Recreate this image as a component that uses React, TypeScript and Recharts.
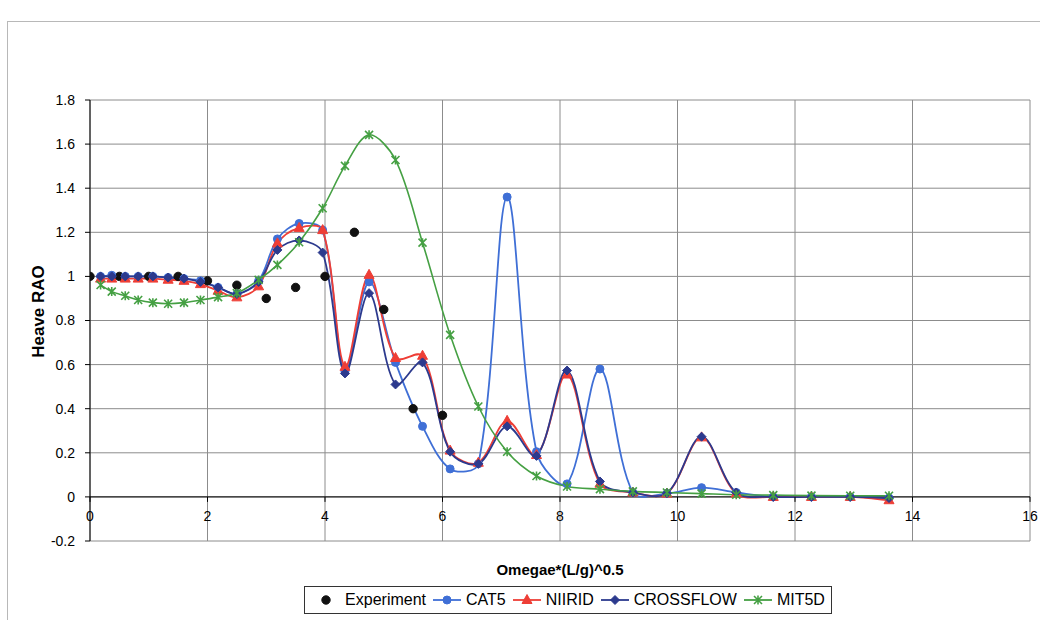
import React from 'react';
import { ComposedChart, Line, XAxis, YAxis, CartesianGrid, ReferenceLine, Legend } from 'recharts';

// ---------- data ----------
const simX = [0.18, 0.37, 0.6, 0.82, 1.07, 1.33, 1.6, 1.88, 2.18, 2.5, 2.87, 3.19, 3.56, 3.96, 4.34, 4.75, 5.2, 5.66, 6.13, 6.61, 7.1, 7.6, 8.12, 8.68, 9.24, 9.82, 10.41, 11.0, 11.63, 12.28, 12.94, 13.6];
const cat5Y = [1.0, 1.005, 1.0, 1.0, 1.0, 0.995, 0.99, 0.98, 0.95, 0.92, 0.98, 1.17, 1.24, 1.21, 0.57, 0.975, 0.61, 0.32, 0.127, 0.15, 1.36, 0.205, 0.059, 0.58, 0.02, 0.015, 0.042, 0.02, 0.0, 0.0, 0.0, -0.005];
const niiridY = [0.99, 0.99, 0.99, 0.99, 0.99, 0.985, 0.98, 0.965, 0.935, 0.905, 0.955, 1.15, 1.22, 1.21, 0.59, 1.007, 0.63, 0.64, 0.21, 0.155, 0.345, 0.19, 0.555, 0.06, 0.02, 0.015, 0.27, 0.015, 0.0, 0.0, 0.0, -0.015];
const crossflowY = [1.0, 1.0, 1.0, 1.0, 1.0, 0.995, 0.99, 0.975, 0.95, 0.92, 0.975, 1.12, 1.163, 1.108, 0.56, 0.924, 0.51, 0.61, 0.205, 0.15, 0.32, 0.186, 0.573, 0.07, 0.02, 0.017, 0.273, 0.02, 0.0, 0.0, 0.0, -0.005];
const mit5dY = [0.961, 0.931, 0.912, 0.893, 0.881, 0.876, 0.881, 0.893, 0.906, 0.924, 0.984, 1.052, 1.155, 1.309, 1.501, 1.642, 1.528, 1.153, 0.735, 0.41, 0.205, 0.095, 0.047, 0.035, 0.025, 0.02, 0.015, 0.01, 0.008, 0.006, 0.005, 0.005];
const expX = [0, 0.5, 1.0, 1.5, 2.0, 2.5, 3.0, 3.5, 4.0, 4.5, 5.0, 5.5, 6.0];
const expY = [1.0, 1.0, 1.0, 1.0, 0.98, 0.96, 0.9, 0.95, 1.0, 1.2, 0.85, 0.4, 0.37];

const xTicks = [0, 2, 4, 6, 8, 10, 12, 14, 16];
const yTicks = [-0.2, 0, 0.2, 0.4, 0.6, 0.8, 1, 1.2, 1.4, 1.6, 1.8];
const xDomain: [number, number] = [0, 16];
const yDomain: [number, number] = [-0.2, 1.8];

const seriesNames = ['Experiment', 'CAT5', 'NIIRID', 'CROSSFLOW', 'MIT5D'];

const toPts = (xs: number[], ys: number[]) => xs.map((x, i) => ({ x, y: ys[i] }));
const expData = toPts(expX, expY);
const cat5Data = toPts(simX, cat5Y);
const niiridData = toPts(simX, niiridY);
const crossData = toPts(simX, crossflowY);
const mitData = toPts(simX, mit5dY);

// ---------- style ----------
const W = 1040;
const H = 620;
const PLOT_TOP = 100;
const X_AXIS_H = 79;
const PLOT_H = H - PLOT_TOP - X_AXIS_H;
const ZERO_OFF = (PLOT_H * (0 - yDomain[0])) / (yDomain[1] - yDomain[0]);
const FONT = '"Liberation Sans", Arial, Helvetica, sans-serif';

const C_EXP = '#111111';
const C_CAT5 = '#3f6fd6';
const C_NII = '#ee3e36';
const C_CROSS = '#2c3a8e';
const C_MIT = '#45a043';

// Excel-like smoothing: chord-length weighted Catmull-Rom bezier
const excelSmooth: any = (context: any) => {
  let pts: number[][] = [];
  const dist = (a: number[], b: number[]) => Math.hypot(b[0] - a[0], b[1] - a[1]);
  return {
    areaStart() {},
    areaEnd() {},
    lineStart() {
      pts = [];
    },
    point(x: number, y: number) {
      pts.push([+x, +y]);
    },
    lineEnd() {
      if (!pts.length) return;
      context.moveTo(pts[0][0], pts[0][1]);
      for (let i = 0; i < pts.length - 1; i++) {
        const p0 = pts[i - 1] || pts[i];
        const p1 = pts[i];
        const p2 = pts[i + 1];
        const p3 = pts[i + 2] || p2;
        const d01 = dist(p0, p1);
        const d12 = dist(p1, p2);
        const d23 = dist(p2, p3);
        const s1 = d01 + d12 > 0 ? (d12 / (d01 + d12)) * (2 / 3) * 0.5 : 0;
        const s2 = d12 + d23 > 0 ? (d12 / (d12 + d23)) * (2 / 3) * 0.5 : 0;
        const k1 = i === 0 ? 1 / 6 : s1;
        const k2 = i + 2 >= pts.length ? 1 / 6 : s2;
        context.bezierCurveTo(
          p1[0] + (p2[0] - p0[0]) * k1,
          p1[1] + (p2[1] - p0[1]) * k1,
          p2[0] - (p3[0] - p1[0]) * k2,
          p2[1] - (p3[1] - p1[1]) * k2,
          p2[0],
          p2[1]
        );
      }
    },
  };
};

// ---------- markers ----------
const circleM = (c: string, r: number) => (cx: number, cy: number, k: any) => (
  <circle key={k} cx={cx} cy={cy} r={r} fill={c} stroke={c} strokeWidth={1} />
);
const triM = (c: string) => (cx: number, cy: number, k: any) => (
  <polygon key={k} points={`${cx},${cy - 5.5} ${cx - 5},${cy + 3.5} ${cx + 5},${cy + 3.5}`} fill={c} stroke={c} strokeWidth={1} />
);
const diaM = (c: string) => (cx: number, cy: number, k: any) => (
  <polygon key={k} points={`${cx},${cy - 4.5} ${cx + 4.5},${cy} ${cx},${cy + 4.5} ${cx - 4.5},${cy}`} fill={c} stroke={c} strokeWidth={1} />
);
const starM = (c: string) => (cx: number, cy: number, k: any) => (
  <path
    key={k}
    d={`M${cx - 4},${cy - 4}L${cx + 4},${cy + 4}M${cx + 4},${cy - 4}L${cx - 4},${cy + 4}M${cx},${cy - 4.5}L${cx},${cy + 4.5}`}
    stroke={c}
    strokeWidth={1.6}
    fill="none"
  />
);

const dotFrom = (m: (cx: number, cy: number, k: any) => any) => (p: any) => {
  if (p.cx == null || p.cy == null) return <g key={p.index} />;
  return m(p.cx, p.cy, `d${p.index}`);
};

const expMarker = circleM(C_EXP, 4.2);
const cat5Marker = circleM(C_CAT5, 4);
const niiMarker = triM(C_NII);
const crossMarker = diaM(C_CROSS);
const mitMarker = starM(C_MIT);

// ---------- axis pieces ----------
const XTick = (p: any) => {
  const y0 = p.y - ZERO_OFF;
  return (
    <g>
      <line x1={p.x} x2={p.x} y1={y0} y2={y0 + 5} stroke="#000" strokeWidth={1} />
      <text x={p.x} y={y0 + 24} textAnchor="middle" fontSize={14} fontFamily={FONT} fill="#000">
        {p.payload.value}
      </text>
    </g>
  );
};

const YTitle = (props: any) => {
  const vb = props.viewBox || { x: 0, y: PLOT_TOP, width: 90, height: PLOT_H };
  const cx = vb.x + 38;
  const cy = vb.y + vb.height / 2 - 9;
  return (
    <text x={cx} y={cy} transform={`rotate(-90 ${cx} ${cy})`} textAnchor="middle" dominantBaseline="central" fontWeight="bold" fontSize={17} fontFamily={FONT} fill="#000">
      Heave RAO
    </text>
  );
};

const XTitle = (props: any) => {
  const vb = props.viewBox || { x: 90, y: PLOT_TOP + PLOT_H, width: 940, height: X_AXIS_H };
  return (
    <text x={vb.x + vb.width / 2} y={vb.y + 28} textAnchor="middle" dominantBaseline="central" fontWeight="bold" fontSize={15} fontFamily={FONT} fill="#000">
      Omegae*(L/g)^0.5
    </text>
  );
};

// ---------- legend ----------
const legendItems = [
  { name: seriesNames[0], color: C_EXP, marker: expMarker, line: false },
  { name: seriesNames[1], color: C_CAT5, marker: cat5Marker, line: true },
  { name: seriesNames[2], color: C_NII, marker: niiMarker, line: true },
  { name: seriesNames[3], color: C_CROSS, marker: crossMarker, line: true },
  { name: seriesNames[4], color: C_MIT, marker: mitMarker, line: true },
];

const LegendBox = () => (
  <div
    style={{
      boxSizing: 'border-box',
      width: 528,
      height: 28,
      border: '1px solid #333',
      background: '#fff',
      display: 'flex',
      alignItems: 'center',
      justifyContent: 'center',
      fontFamily: FONT,
      fontSize: 16,
      color: '#000',
      gap: 6,
    }}
  >
    {legendItems.map((it) => (
      <div key={it.name} style={{ display: 'flex', alignItems: 'center' }}>
        <svg width={30} height={14} style={{ marginRight: 4 }}>
          {it.line ? <line x1={1} x2={29} y1={7} y2={7} stroke={it.color} strokeWidth={1.8} /> : null}
          {it.marker(15, 7, 'm')}
        </svg>
        <span style={{ whiteSpace: 'nowrap' }}>{it.name}</span>
      </div>
    ))}
  </div>
);

export default function App() {
  return (
    <div style={{ position: 'absolute', left: 0, top: 0, width: W, height: H, background: '#fff' }}>
      <div
        style={{
          position: 'absolute',
          left: 7,
          top: 21,
          width: W - 7,
          height: H - 21,
          borderTop: '1px solid #b8b8b8',
          borderLeft: '1px solid #b8b8b8',
          boxSizing: 'border-box',
        }}
      />
      <ComposedChart
        width={W}
        height={H}
        margin={{ top: PLOT_TOP, right: 10, bottom: 0, left: 0 }}
        style={{ position: 'absolute', left: 0, top: 0 }}
      >
        <CartesianGrid stroke="#8c8c8c" strokeWidth={1} horizontalValues={yTicks} verticalValues={xTicks} />
        <XAxis
          type="number"
          dataKey="x"
          domain={xDomain}
          ticks={xTicks}
          allowDataOverflow
          interval={0}
          height={X_AXIS_H}
          axisLine={false}
          tickLine={false}
          tickSize={0}
          tickMargin={0}
          tick={<XTick />}
          label={<XTitle />}
        />
        <YAxis
          type="number"
          domain={yDomain}
          ticks={yTicks}
          allowDataOverflow
          interval={0}
          width={90}
          axisLine={{ stroke: '#000', strokeWidth: 1 }}
          tickLine={{ stroke: '#000' }}
          tickSize={5}
          tickMargin={10}
          tick={{ fontSize: 14, fontFamily: FONT, fill: '#000' }}
          label={<YTitle />}
        />
        <ReferenceLine y={0} stroke="#000" strokeWidth={1} ifOverflow="extendDomain" />
        <Line data={expData} dataKey="y" name={seriesNames[0]} stroke="none" strokeWidth={0} dot={dotFrom(expMarker)} activeDot={false} isAnimationActive={false} legendType="none" />
        <Line data={cat5Data} dataKey="y" name={seriesNames[1]} type={excelSmooth} stroke={C_CAT5} strokeWidth={1.8} dot={dotFrom(cat5Marker)} activeDot={false} isAnimationActive={false} />
        <Line data={niiridData} dataKey="y" name={seriesNames[2]} type={excelSmooth} stroke={C_NII} strokeWidth={1.8} dot={dotFrom(niiMarker)} activeDot={false} isAnimationActive={false} />
        <Line data={crossData} dataKey="y" name={seriesNames[3]} type={excelSmooth} stroke={C_CROSS} strokeWidth={1.8} dot={dotFrom(crossMarker)} activeDot={false} isAnimationActive={false} />
        <Line data={mitData} dataKey="y" name={seriesNames[4]} type={excelSmooth} stroke={C_MIT} strokeWidth={1.6} dot={dotFrom(mitMarker)} activeDot={false} isAnimationActive={false} />
        <Legend
          layout="horizontal"
          verticalAlign="middle"
          align="center"
          wrapperStyle={{ left: 304, top: 586, width: 528, height: 28 }}
          content={<LegendBox />}
        />
      </ComposedChart>
    </div>
  );
}
